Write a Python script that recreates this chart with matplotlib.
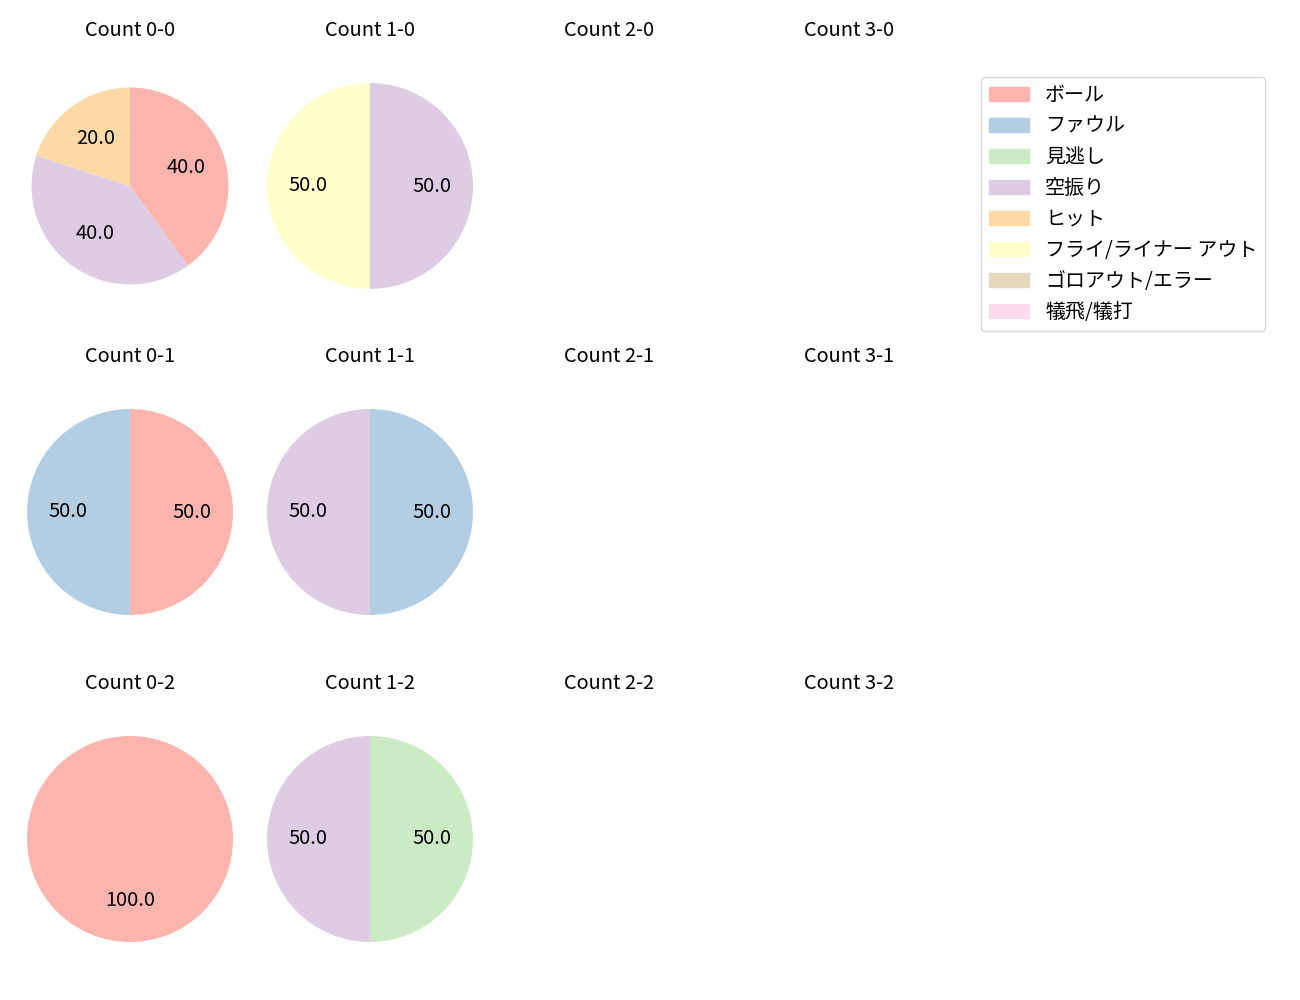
import matplotlib.pyplot as plt
from matplotlib.patches import Patch

plt.rcParams['font.family'] = ['Noto Sans CJK JP', 'DejaVu Sans']

# 結果の種類
categories = ['ボール', 'ファウル', '見逃し', '空振り', 'ヒット',
              'フライ/ライナー アウト', 'ゴロアウト/エラー', '犠飛/犠打']
colors = plt.get_cmap('Pastel1').colors[:len(categories)]

# カウントごとの割合 (%)
balls = [0, 1, 2, 3]
strikes = [0, 1, 2]
count_0_0 = {'ボール': 40.0, '空振り': 40.0, 'ヒット': 20.0}
count_1_0 = {'空振り': 50.0, 'フライ/ライナー アウト': 50.0}
count_0_1 = {'ボール': 50.0, 'ファウル': 50.0}
count_1_1 = {'ファウル': 50.0, '空振り': 50.0}
count_0_2 = {'ボール': 100.0}
count_1_2 = {'見逃し': 50.0, '空振り': 50.0}
pie_data = {
    (0, 0): count_0_0, (1, 0): count_1_0,
    (0, 1): count_0_1, (1, 1): count_1_1,
    (0, 2): count_0_2, (1, 2): count_1_2,
}

W, H = 1300, 1000
col_x = [130, 370, 609, 849]
row_y = [186, 512, 839]
R = 103  # 半径1あたりのピクセル
bw, bh = 240, 284
fs = 14.4

fig = plt.figure(figsize=(13, 10), dpi=100)
for s in strikes:
    for b in balls:
        cx, cy = col_x[b], row_y[s]
        ax = fig.add_axes([(cx - bw / 2) / W, 1 - (cy + bh / 2) / H, bw / W, bh / H])
        ax.set_title(f'Count {b}-{s}', fontsize=fs)
        ax.axis('off')
        if (b, s) in pie_data:
            d = pie_data[(b, s)]
            vals = list(d.values())
            cols = [colors[categories.index(k)] for k in d]
            rad = 0.956 if (b, s) == (0, 0) else 1.0
            ax.pie(vals, colors=cols, autopct='%.1f', startangle=90,
                   counterclock=False, radius=rad, textprops={'fontsize': fs})
            ax.set_aspect('auto')
            ax.set_xlim(-bw / 2 / R, bw / 2 / R)
            ax.set_ylim(-bh / 2 / R, bh / 2 / R)

handles = [Patch(color=c, label=l) for c, l in zip(colors, categories)]
fig.legend(handles=handles, loc='upper left', bbox_to_anchor=(981 / W, 1 - 77 / H),
           fontsize=fs, borderaxespad=0)

fig.savefig('out.png', dpi=100)
